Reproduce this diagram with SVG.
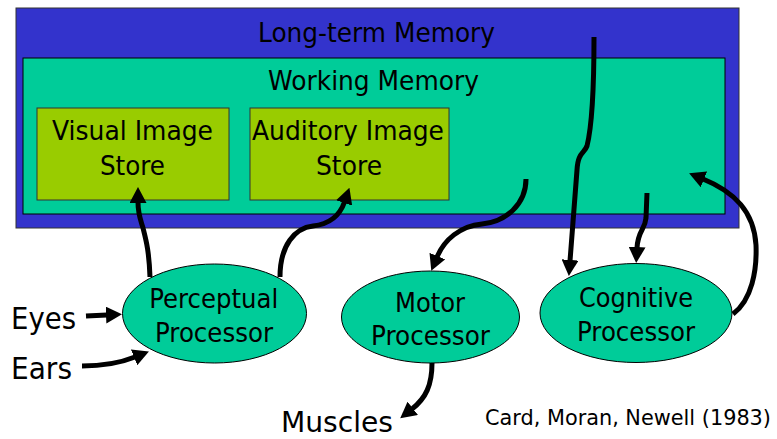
<svg xmlns="http://www.w3.org/2000/svg" width="777" height="439" viewBox="0 0 777 439">
<style>
text{font-family:"DejaVu Sans","Liberation Sans",sans-serif;fill:#000;}
.lbl{font-size:27px;text-anchor:middle;}
.big{font-size:30px;}
.cite{font-size:21px;}
.ell{fill:#00CC99;stroke:#000;stroke-width:1;}
.store{fill:#99CC00;stroke:#333;stroke-width:1;}
.conn{fill:none;stroke:#000;stroke-width:5;marker-end:url(#ah);}
</style>
<defs>
<marker id="ah" markerUnits="userSpaceOnUse" markerWidth="16" markerHeight="17" viewBox="0 0 16 17" refX="1" refY="8.5" orient="auto">
<path d="M0,0 L16,8.5 L0,17 z" fill="#000"/>
</marker>
</defs>
<g id="ltm">
<rect x="16" y="8" width="723" height="220" fill="#3333CC" stroke="#333" stroke-width="1"/>
<text class="lbl" x="376.5" y="42" textLength="237" lengthAdjust="spacingAndGlyphs">Long-term Memory</text>
</g>
<g id="wm">
<rect x="23" y="58" width="702" height="156" fill="#00CC99" stroke="#000" stroke-width="1"/>
<text class="lbl" x="373.5" y="90" textLength="211" lengthAdjust="spacingAndGlyphs">Working Memory</text>
</g>
<g id="vis">
<rect class="store" x="37" y="108" width="192" height="92"/>
<text class="lbl" x="132.5" y="140" textLength="161" lengthAdjust="spacingAndGlyphs">Visual Image</text>
<text class="lbl" x="132.5" y="175" textLength="65" lengthAdjust="spacingAndGlyphs">Store</text>
</g>
<g id="aud">
<rect class="store" x="250" y="108" width="199" height="92"/>
<text class="lbl" x="348" y="140" textLength="192" lengthAdjust="spacingAndGlyphs">Auditory Image</text>
<text class="lbl" x="349" y="175" textLength="66" lengthAdjust="spacingAndGlyphs">Store</text>
</g>
<g id="perc">
<ellipse class="ell" cx="214.5" cy="313.5" rx="92" ry="49.5"/>
<text class="lbl" x="213.7" y="308" textLength="129" lengthAdjust="spacingAndGlyphs">Perceptual</text>
<text class="lbl" x="214" y="342" textLength="118" lengthAdjust="spacingAndGlyphs">Processor</text>
</g>
<g id="motor">
<ellipse class="ell" cx="430.5" cy="317" rx="89" ry="46"/>
<text class="lbl" x="430" y="312" textLength="70" lengthAdjust="spacingAndGlyphs">Motor</text>
<text class="lbl" x="430.5" y="345" textLength="119" lengthAdjust="spacingAndGlyphs">Processor</text>
</g>
<g id="cog">
<ellipse class="ell" cx="636" cy="313" rx="96" ry="49.5"/>
<text class="lbl" x="636" y="307" textLength="114" lengthAdjust="spacingAndGlyphs">Cognitive</text>
<text class="lbl" x="636" y="341" textLength="118" lengthAdjust="spacingAndGlyphs">Processor</text>
</g>
<g id="eyes"><text class="big" x="11" y="329" textLength="65" lengthAdjust="spacingAndGlyphs">Eyes</text></g>
<g id="ears"><text class="big" x="11" y="379" textLength="61" lengthAdjust="spacingAndGlyphs">Ears</text></g>
<g id="muscles"><text class="big" x="281" y="432" style="font-size:28px" textLength="112" lengthAdjust="spacingAndGlyphs">Muscles</text></g>
<g id="cite"><text class="cite" x="485" y="425" textLength="286" lengthAdjust="spacingAndGlyphs">Card, Moran, Newell (1983)</text></g>
<g id="connectors">
<path class="conn" d="M150,277 C149,250 146,240 143,228 C140,218 138,214 138,202"/>
<path class="conn" d="M280,277 C280,245 295,228 313,226 C330,224 340,215 344.5,202"/>
<path class="conn" d="M526,179 C526,205 505,222 482,224 C460,226 444,240 437,257"/>
<path class="conn" d="M594,37 C594,90 591,130 587,146 C584,154 578,152 577,170 L570,261"/>
<path class="conn" d="M647,193 L646,218 C645,230 638,230 637,248"/>
<path class="conn" d="M733,314 C752,300 757,270 756,245 C754,212 735,192 703,179"/>
<path class="conn" d="M86,316 L107,315"/>
<path class="conn" d="M82,366 C100,366 120,363 135,357"/>
<path class="conn" d="M432,363 C432,385 426,398 412,409"/>
</g>
</svg>
